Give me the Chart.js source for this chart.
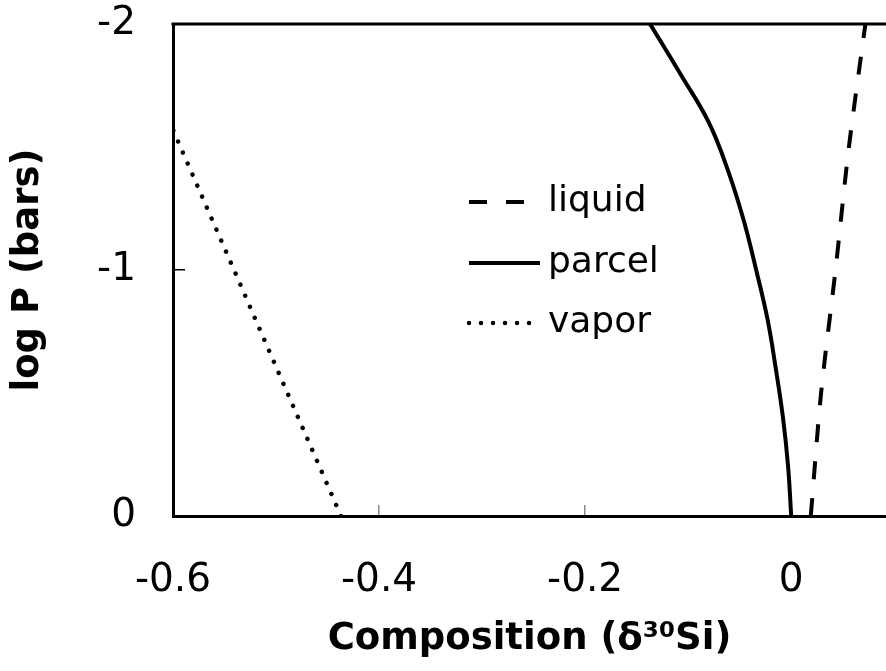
<!DOCTYPE html>
<html>
<head>
<meta charset="utf-8">
<script src="https://cdn.jsdelivr.net/npm/chart.js@4"></script>
<style>
  html, body { margin: 0; padding: 0; background: #fff; }
  #wrap { width: 886px; height: 671px; }
</style>
</head>
<body>
<div id="wrap"><canvas id="chart" width="886" height="671"></canvas></div>
<script>
// log P (bars) on y, composition on x
const liquidP = [0, -0.5, -1, -1.5, -2];
const liquidX = [0.019, 0.029, 0.043, 0.056, 0.072];

const parcelP = [0, -0.2, -0.4, -0.6, -0.8, -1.0, -1.2, -1.4, -1.6, -1.8, -2];
const parcelX = [0.000, -0.003, -0.008, -0.015, -0.023, -0.034, -0.046, -0.061, -0.080, -0.108, -0.137];

const vaporP = [0, -1.57];
const vaporX = [-0.437, -0.6];

const xTicks = [-0.6, -0.4, -0.2, 0];
const yTicks = [-2, -1, 0];

const toPts = (xs, ys) => xs.map((x, i) => ({ x: x, y: ys[i] }));

const FONT = 'DejaVu Sans, Verdana, sans-serif';

// legend drawn inside the plot, like the original
const legendPlugin = {
  id: 'insideLegend',
  afterDatasetsDraw(chart) {
    const ctx = chart.ctx;
    const a = chart.chartArea;
    const x0 = a.left + 296;
    const rows = [
      { y: a.top + 178, ds: chart.data.datasets[0], len: 58 },
      { y: a.top + 239, ds: chart.data.datasets[1], len: 71 },
      { y: a.top + 299, ds: chart.data.datasets[2], len: 64 }
    ];
    ctx.save();
    rows.forEach(r => {
      ctx.beginPath();
      ctx.strokeStyle = '#000';
      ctx.lineWidth = r.ds.borderWidth;
      ctx.lineCap = r.ds.borderCapStyle || 'butt';
      ctx.setLineDash(r.ds.borderDash || []);
      ctx.moveTo(x0, r.y);
      ctx.lineTo(x0 + r.len, r.y);
      ctx.stroke();
      ctx.setLineDash([]);
      ctx.fillStyle = '#000';
      ctx.font = '36px ' + FONT;
      ctx.textBaseline = 'middle';
      ctx.fillText(r.ds.label, a.left + 375, r.y);
    });
    ctx.restore();
  }
};

// top frame line
const framePlugin = {
  id: 'frame',
  afterDraw(chart) {
    const ctx = chart.ctx;
    const a = chart.chartArea;
    ctx.save();
    ctx.strokeStyle = '#000';
    ctx.lineWidth = 3;
    ctx.beginPath();
    ctx.moveTo(a.left - 1.5, a.top);
    ctx.lineTo(a.right, a.top);
    ctx.stroke();
    ctx.restore();
  }
};

new Chart(document.getElementById('chart'), {
  type: 'scatter',
  data: {
    datasets: [
      {
        label: 'liquid',
        data: toPts(liquidX, liquidP),
        showLine: true,
        borderColor: '#000',
        borderWidth: 4,
        borderDash: [18, 19],
        pointRadius: 0,
        tension: 0.3
      },
      {
        label: 'parcel',
        data: toPts(parcelX, parcelP),
        showLine: true,
        borderColor: '#000',
        borderWidth: 4,
        pointRadius: 0,
        tension: 0.4
      },
      {
        label: 'vapor',
        data: toPts(vaporX, vaporP),
        showLine: true,
        borderColor: '#000',
        borderWidth: 4.5,
        borderDash: [0.01, 12],
        borderCapStyle: 'round',
        pointRadius: 0
      }
    ]
  },
  options: {
    responsive: false,
    animation: false,
    devicePixelRatio: 1,
    layout: { padding: { top: 24, right: 0, left: 0, bottom: 0 } },
    plugins: {
      legend: { display: false },
      tooltip: { enabled: false }
    },
    scales: {
      x: {
        type: 'linear',
        min: -0.6,
        max: 0.092,
        afterBuildTicks: s => { s.ticks = xTicks.map(v => ({ value: v })); },
        afterFit: s => { s.height = 155; s.paddingLeft = 0; s.paddingRight = 0; },
        border: { display: true, color: '#000', width: 3 },
        grid: { drawOnChartArea: false, drawTicks: true, tickLength: -11, color: '#888', lineWidth: 1.5 },
        ticks: {
          color: '#000',
          padding: 52,
          font: { family: FONT, size: 39 },
          callback: v => (v === 0 ? '0' : v.toFixed(1))
        },
        title: {
          display: true,
          text: 'Composition (δ³⁰Si)',
          color: '#000',
          font: { family: FONT, size: 37, weight: 'bold' },
          padding: { top: 0, bottom: 9 }
        }
      },
      y: {
        type: 'linear',
        min: -2,
        max: 0,
        reverse: true,
        afterBuildTicks: s => { s.ticks = yTicks.map(v => ({ value: v })); },
        afterFit: s => { s.width = 173; s.paddingTop = 0; s.paddingBottom = 0; },
        border: { display: true, color: '#000', width: 3 },
        grid: { drawOnChartArea: false, drawTicks: true, tickLength: -12, color: '#000', lineWidth: 1.5 },
        ticks: {
          color: '#000',
          padding: 49,
          font: { family: FONT, size: 39 },
          callback: v => String(v)
        },
        title: {
          display: true,
          text: 'log P (bars)',
          color: '#000',
          font: { family: FONT, size: 37, weight: 'bold' },
          padding: { top: 6, bottom: 0 }
        }
      }
    }
  },
  plugins: [legendPlugin, framePlugin]
});
</script>
</body>
</html>
